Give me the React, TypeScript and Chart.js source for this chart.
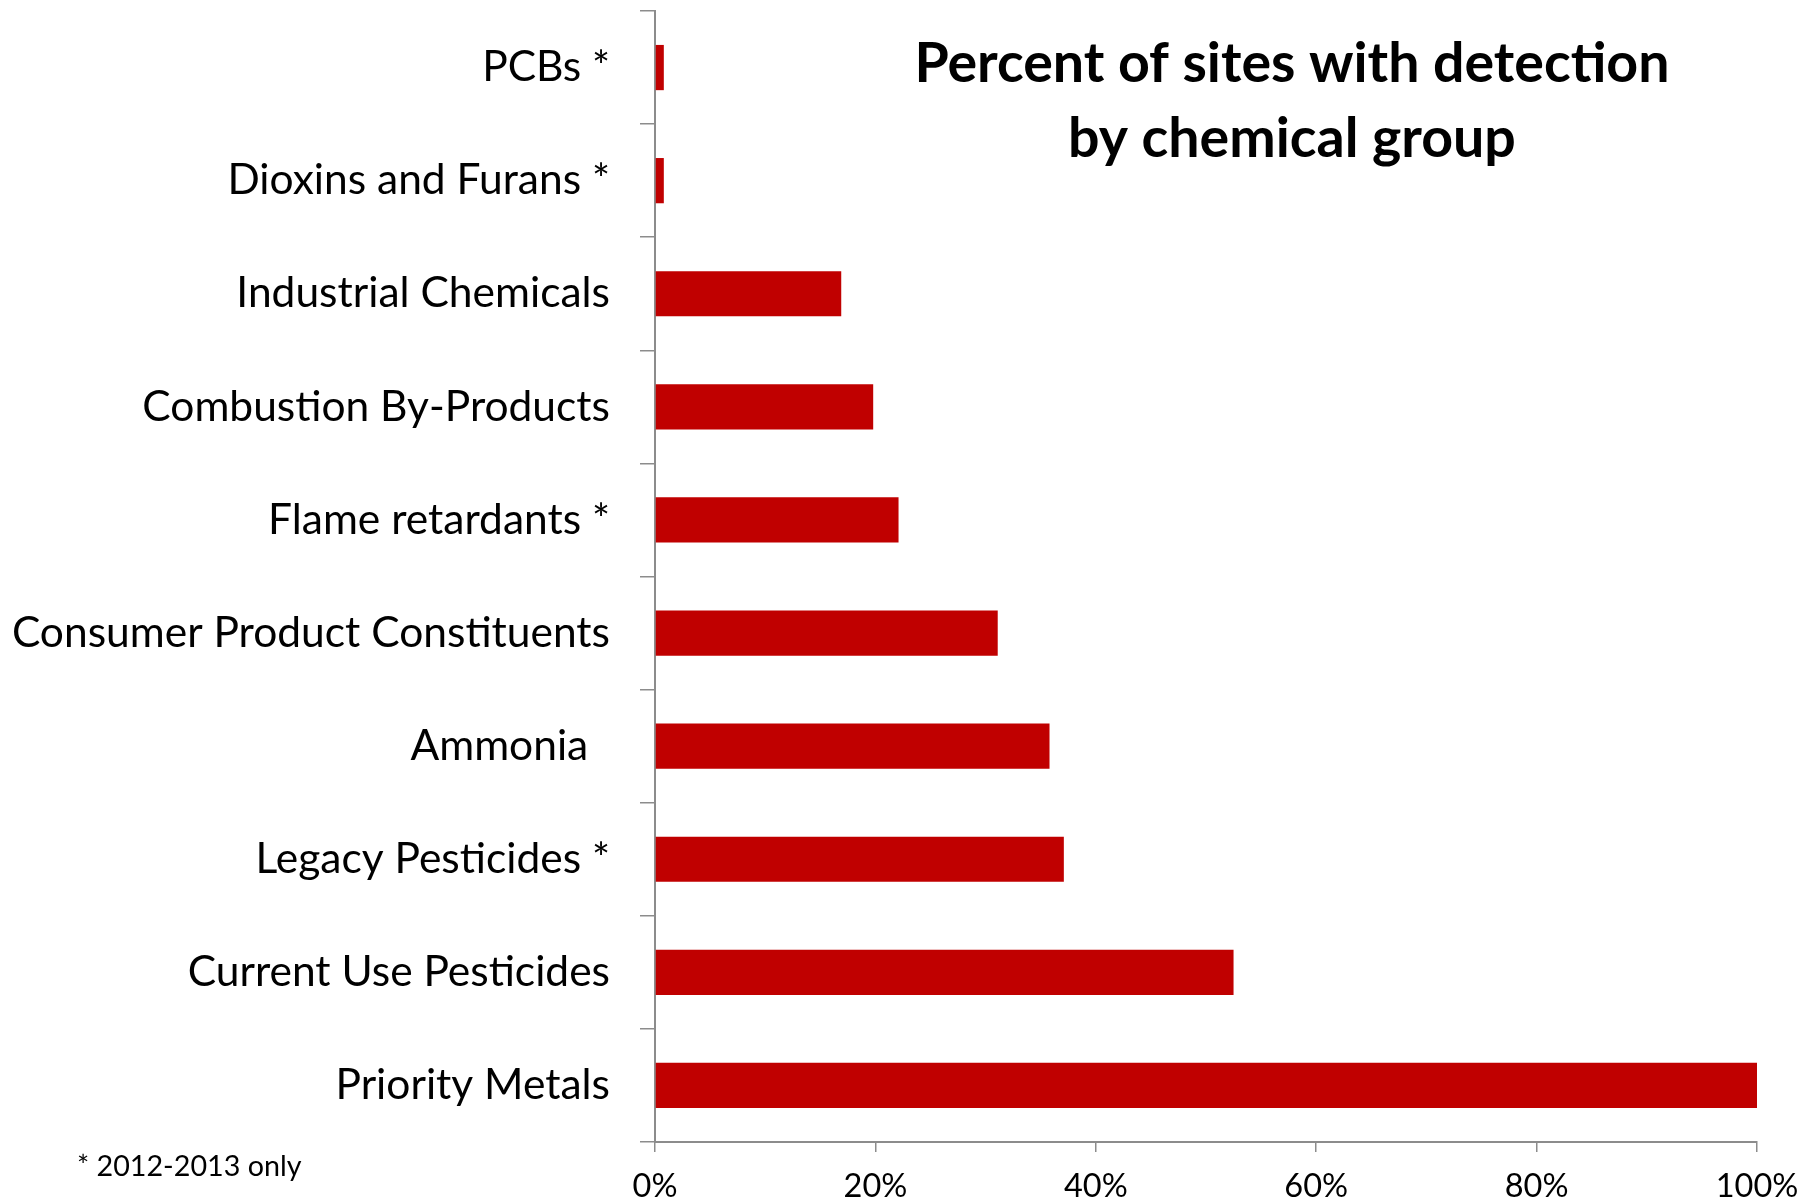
import React, { useEffect, useRef } from "react";
import { Chart, registerables } from "chart.js";

Chart.register(...registerables);

const categories = [
  "PCBs *",
  "Dioxins and Furans *",
  "Industrial Chemicals",
  "Combustion By-Products",
  "Flame retardants *",
  "Consumer Product Constituents",
  "Ammonia  ",
  "Legacy Pesticides *",
  "Current Use Pesticides",
  "Priority Metals",
];

const percentDetected = [0.8, 0.8, 16.9, 19.8, 22.1, 31.1, 35.8, 37.1, 52.5, 100];

const xTicks = [0, 20, 40, 60, 80, 100];

const titleLines = ["Percent of sites with detection", "by chemical group"];
const footnote = "* 2012-2013 only";

const FONT = "Lato, 'Open Sans', sans-serif";

const overlayPlugin = {
  id: "overlayText",
  afterDraw(chart: any) {
    const { ctx, chartArea } = chart;
    ctx.save();
    ctx.fillStyle = "#000";
    ctx.textAlign = "center";
    ctx.textBaseline = "alphabetic";
    ctx.font = `bold 55.5px ${FONT}`;
    const cx = chartArea.left + (chartArea.right - chartArea.left) * 0.578;
    ctx.fillText(titleLines[0], cx, 82);
    ctx.fillText(titleLines[1], cx, 157);
    ctx.textAlign = "left";
    ctx.font = `28.7px ${FONT}`;
    ctx.fillText(footnote, 77, 1176);
    ctx.restore();
  },
};

export default function App() {
  const ref = useRef<HTMLCanvasElement | null>(null);

  useEffect(() => {
    if (!ref.current) return;
    const chart = new Chart(ref.current, {
      type: "bar",
      data: {
        labels: categories,
        datasets: [
          {
            data: percentDetected,
            backgroundColor: "#C00000",
            borderWidth: 0,
            barPercentage: 0.4,
            categoryPercentage: 1,
          },
        ],
      },
      options: {
        indexAxis: "y",
        animation: false,
        responsive: false,
        maintainAspectRatio: false,
        layout: { padding: { top: 11, right: 43, left: 0, bottom: 0 } },
        plugins: {
          legend: { display: false },
          tooltip: { enabled: false },
          title: { display: false },
        },
        scales: {
          x: {
            type: "linear",
            min: 0,
            max: 100,
            afterBuildTicks(scale: any) {
              scale.ticks = xTicks.map((v) => ({ value: v }));
            },
            afterFit(scale: any) {
              scale.height = 62;
              scale.paddingLeft = 0;
              scale.paddingRight = 0;
            },
            ticks: {
              callback: (v: any) => `${v}%`,
              color: "#000",
              font: { family: FONT, size: 32.5 },
              padding: 15,
              maxRotation: 0,
            },
            grid: {
              drawOnChartArea: false,
              drawTicks: true,
              tickLength: 10,
              color: "#8c8c8c",
              lineWidth: 1.5,
            },
            border: { color: "#8c8c8c", width: 2 },
          },
          y: {
            type: "category",
            afterFit(scale: any) {
              scale.width = 655;
              scale.paddingTop = 0;
              scale.paddingBottom = 0;
            },
            ticks: {
              color: "#000",
              font: { family: FONT, size: 42.5 },
              padding: 30,
            },
            grid: {
              drawOnChartArea: false,
              drawTicks: true,
              tickLength: 15,
              offset: true,
              color: "#8c8c8c",
              lineWidth: 1.5,
            },
            border: { color: "#8c8c8c", width: 2 },
          },
        },
      },
      plugins: [overlayPlugin],
    });
    return () => chart.destroy();
  }, []);

  return (
    <div style={{ position: "absolute", left: 0, top: 0, width: 1800, height: 1204, background: "#fff" }}>
      <canvas ref={ref} width={1800} height={1204} style={{ width: 1800, height: 1204, display: "block" }} />
    </div>
  );
}
